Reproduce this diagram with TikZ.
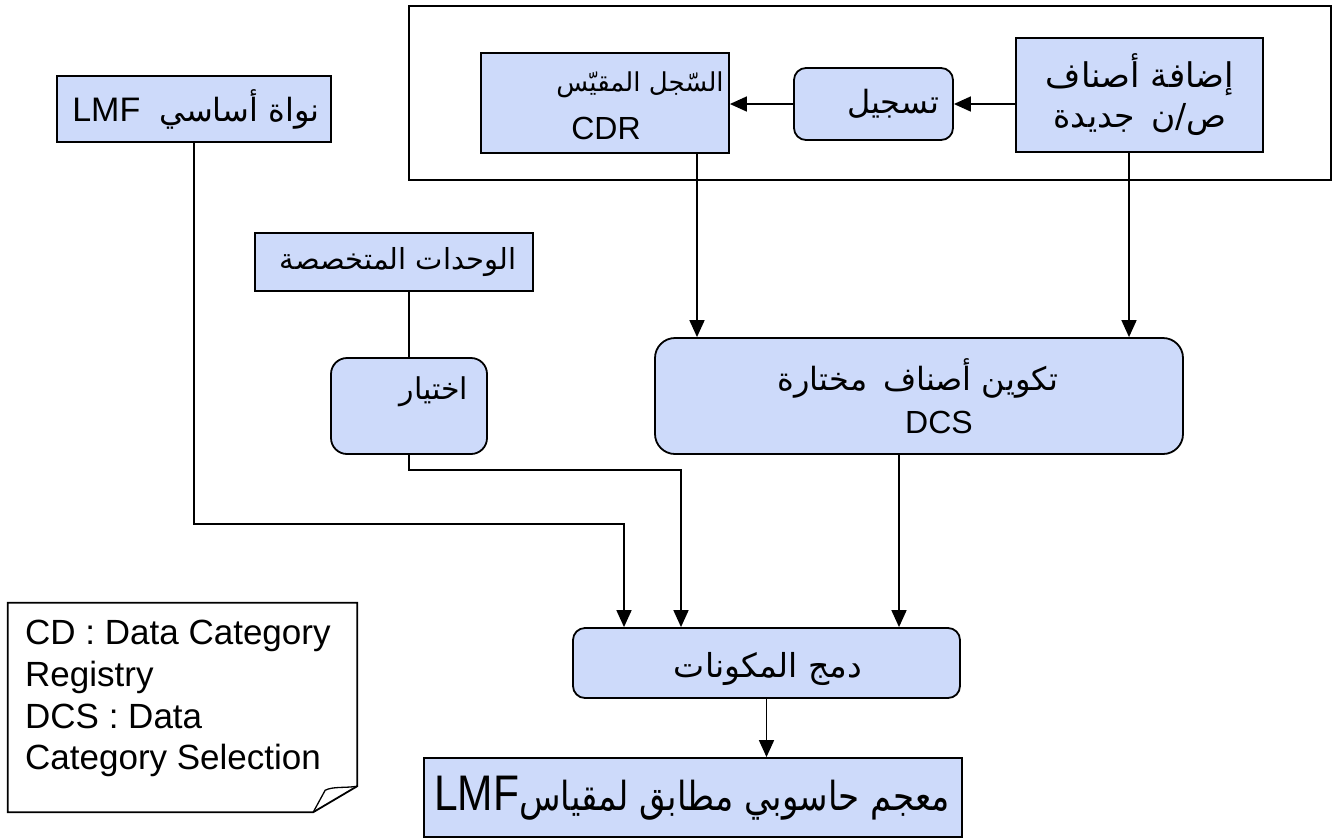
\documentclass[tikz,border=0pt]{standalone}
\usepackage{fontspec}
\usepackage{graphicx}
\setmainfont{Liberation Sans}
\newfontfamily\arabicfont[Script=Arabic]{DejaVu Sans}
\TeXXeTstate=1
\usetikzlibrary{arrows.meta,calc}
\definecolor{boxfill}{RGB}{205,218,250}
\newcommand\artxt[1]{{\arabicfont\beginR #1\endR}}
\newcommand\lattxt[1]{{\beginL #1\endL}}
\begin{document}
\begin{tikzpicture}[x=1pt,y=-1pt,
  box/.style={draw,line width=1.8pt,fill=boxfill,inner sep=0pt},
  rbox/.style={box,rounded corners=#1},
  arr/.style={line width=1.6pt,-{Triangle[length=17pt,width=15pt]}},
  ln/.style={line width=1.6pt},
  txt/.style={inner sep=0pt,font=\fontsize{32}{38}\selectfont},
  atxt/.style={inner sep=0pt,font=\fontsize{#1}{#1}\selectfont}]
\useasboundingbox (0,0) rectangle (1337,839);

% frame around the top group
\node[draw,line width=1.8pt,inner sep=0pt,minimum width=922pt,minimum height=174pt] (frame) at (870,93) {};

% boxes
\node[box,minimum width=248pt,minimum height=100pt] (cdr) at (605,103) {};
\node[rbox=12pt,minimum width=159pt,minimum height=72pt] (tasjil) at (873.5,104) {};
\node[box,minimum width=247pt,minimum height=114pt] (add) at (1139.5,95) {};
\node[box,minimum width=274pt,minimum height=66pt] (lmf) at (194,109) {};
\node[box,minimum width=278pt,minimum height=58pt] (wahadat) at (394,262) {};
\node[rbox=16pt,minimum width=156pt,minimum height=96pt] (ikhtiyar) at (409,406) {};
\node[rbox=20pt,minimum width=528pt,minimum height=116pt] (dcs) at (919,396) {};
\node[rbox=12pt,minimum width=387pt,minimum height=70pt] (dam) at (766.5,663) {};
\node[box,minimum width=538pt,minimum height=79pt] (final) at (693,797.5) {};

% note with folded corner
\node[inner sep=0pt,minimum width=349pt,minimum height=209pt] (note) at (182.5,707.5) {};
\draw[line width=1.8pt] (note.north west) -- (note.north east) -- ([yshift=26pt]note.south east)
  -- ([xshift=-44pt]note.south east) -- (note.south west) -- cycle;
\draw[line width=1.3pt] ([xshift=-44pt]note.south east) -- ([xshift=-32pt,yshift=22pt]note.south east)
  .. controls ([xshift=-24pt,yshift=26pt]note.south east) and ([xshift=-12pt,yshift=24pt]note.south east)
  .. ([yshift=26pt]note.south east);

% texts
\node[atxt=26] (tcdr1) at (640,85) {\artxt{السّجل المقيّس}};
\node[txt] (tcdr2) at (606,128) {CDR};
\node[atxt=32] (ttasjil) at (893,104) {\artxt{تسجيل}};
\node[atxt=34] (tadd1) at (1140,75) {\artxt{إضافة أصناف}};
\node[atxt=33] (tadd2) at (1140,119) {\artxt{ص/ن\hspace{0.5em}جديدة}};
\node[atxt=32] (tlmf) at (196,109) {\artxt{نواة أساسي\hspace{0.6em}{\rmfamily\fontsize{34}{34}\selectfont\lattxt{LMF}}}};
\node[atxt=29] (twahadat) at (398,262) {\artxt{الوحدات المتخصصة}};
\node[atxt=30] (tikh) at (434,392) {\artxt{اختيار}};
\node[atxt=32] (tdcs1) at (918,378) {\artxt{تكوين أصناف\hspace{0.5em}مختارة}};
\node[txt] (tdcs2) at (939,422) {DCS};
\node[atxt=33] (tdam) at (768,669) {\artxt{دمج المكونات}};
\node[atxt=40] (tfinal) at (692,798)
  {\scalebox{0.85}[1]{\artxt{معجم حاسوبي مطابق لمقياس{\rmfamily\fontsize{50}{50}\selectfont\lattxt{LMF}}}}};
\node[inner sep=0pt,anchor=north west,align=left,font=\fontsize{35}{41.7}\selectfont] (tnote) at (25,620)
  {CD : Data Category\\Registry\\DCS : Data\\Category Selection};

% helper coordinates for connector columns
\coordinate (xc) at (697,0);
\coordinate (xa) at (1129,0);
\coordinate (xd) at (899,0);
\coordinate (j1) at (624,524);
\coordinate (j2) at (681,470);

% connectors
\draw[arr] (add.west |- tasjil.east) -- (tasjil.east);
\draw[arr] (tasjil.west) -- (cdr.east |- tasjil.west);
\draw[arr] (cdr.south -| xc) -- (dcs.north -| xc);
\draw[arr] (add.south -| xa) -- (dcs.north -| xa);
\draw[arr] (lmf.south) |- (j1) -- (dam.north -| j1);
\draw[ln] (wahadat.south -| ikhtiyar.north) -- (ikhtiyar.north);
\draw[arr] (ikhtiyar.south) |- (j2) -- (dam.north -| j2);
\draw[arr] (dcs.south -| xd) -- (dam.north -| xd);
\draw[arr] (dam.south) -- (final.north -| dam.south);
\end{tikzpicture}
\end{document}
